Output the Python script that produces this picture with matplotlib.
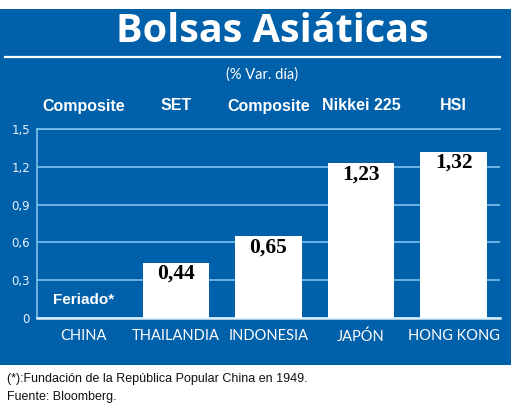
import matplotlib
matplotlib.use('Agg')
import matplotlib.pyplot as plt
from matplotlib.patches import Rectangle
from matplotlib.lines import Line2D
from matplotlib import font_manager

# Data
countries = ['CHINA', 'THAILANDIA', 'INDONESIA', 'JAPÓN', 'HONG KONG']
indices = ['Composite', 'SET', 'Composite', 'Nikkei 225', 'HSI']
values = [0.0, 0.44, 0.65, 1.23, 1.32]
holiday = [True, False, False, False, False]
y_ticks = [0, 0.3, 0.6, 0.9, 1.2, 1.5]
y_tick_labels = ['0', '0,3', '0,6', '0,9', '1,2', '1,5']

BLUE = '#0060a9'
GRID = '#7cc3ef'

names = {f.name for f in font_manager.fontManager.ttflist}
narrow = 'Liberation Sans Narrow' if 'Liberation Sans Narrow' in names else 'Liberation Sans'

W, H = 520, 413
fig = plt.figure(figsize=(W / 100, H / 100), dpi=100)
fig.patch.set_facecolor('white')

# blue panel behind everything
fig.patches.append(Rectangle((0, 1 - 365 / H), 511 / W, 356 / H,
                             transform=fig.transFigure, facecolor=BLUE,
                             edgecolor='none', zorder=-5))
# title and its underline
fig.text(272 / W, 1 - 42 / H, 'Bolsas Asiáticas', color='white', fontsize=28.5,
         fontweight='bold', family='Open Sans', ha='center', va='baseline')
fig.lines.append(Line2D([5 / W, 500 / W], [1 - 57 / H, 1 - 57 / H],
                        transform=fig.transFigure, color='white', linewidth=1.6))
fig.text(262 / W, 1 - 75 / H, '(% Var. día)', color='white', fontsize=10.5,
         family='Lato', ha='center', va='center')

ax = fig.add_axes([37 / W, 1 - 318 / H, 463 / W, 189 / H])
ax.set_zorder(2)
ax.set_facecolor(BLUE)
x = range(len(countries))
ax.bar(x, values, width=0.72, color='white', zorder=3)

for i, v in enumerate(values):
    if holiday[i]:
        ax.text(i, 0.14, 'Feriado*', color='white', fontsize=11, family=narrow,
                fontweight='bold', ha='center', va='center', zorder=4)
    else:
        ax.annotate(f'{v:.2f}'.replace('.', ','), (i, v), xytext=(0, -8),
                    textcoords='offset points', ha='center', va='center',
                    fontsize=15.5, fontweight='bold', family='Liberation Serif',
                    color='black', zorder=4)
    # index name above the plot
    ax.text(i, 1 + 23 / 189, indices[i], transform=ax.get_xaxis_transform(),
            color='white', fontsize=11.5, family=narrow, fontweight='bold',
            ha='center', va='center')

ax.set_xlim(-0.5, len(countries) - 0.5)
ax.set_ylim(0, 1.5)
ax.set_yticks(y_ticks)
ax.set_yticklabels(y_tick_labels)
ax.set_xticks(list(x))
ax.set_xticklabels(countries)
ax.tick_params(axis='x', length=0, pad=8, labelsize=10.5, labelcolor='white')
ax.tick_params(axis='y', length=0, pad=5, labelsize=8.5, labelcolor='#e8f4fc')
for lab in ax.get_xticklabels():
    lab.set_family('Lato')
ax.yaxis.grid(True, color=GRID, linewidth=1.2, zorder=1)
ax.set_axisbelow(True)
ax.spines['right'].set_visible(False)
ax.spines['top'].set_color(GRID)
ax.spines['top'].set_linewidth(1.2)
ax.spines['left'].set_color(GRID)
ax.spines['left'].set_linewidth(1.2)
ax.spines['bottom'].set_color('#d8eefb')
ax.spines['bottom'].set_linewidth(1.8)

fig.text(7 / W, 1 - 379 / H, '(*):Fundación de la República Popular China en 1949.',
         fontsize=9, family=narrow, color='#111111', ha='left', va='center')
fig.text(7 / W, 1 - 397 / H, 'Fuente: Bloomberg.',
         fontsize=9, family=narrow, color='#111111', ha='left', va='center')

fig.savefig('out.png', dpi=100, facecolor='white')
